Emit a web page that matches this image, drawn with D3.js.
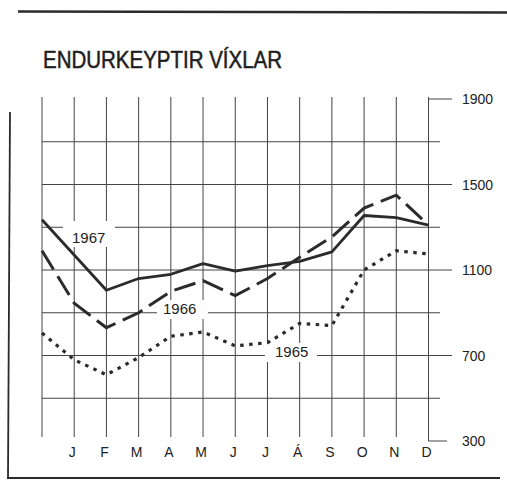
<!DOCTYPE html>
<html><head><meta charset="utf-8">
<script src="https://cdn.jsdelivr.net/npm/d3@7"></script>
<style>body{margin:0;background:#fff}svg{display:block}</style>
</head><body>
<script>
const title = "ENDURKEYPTIR VÍXLAR";
const months = ["", "J","F","M","A","M","J","J","Á","S","O","N","D"];
const yTicks = [1900, 1500, 1100, 700, 300];
const gridValues = [1700, 1500, 1300, 1100, 900, 700, 500];
const majorGrid = [1500, 1100, 700];
const s1967 = [1335, 1170, 1005, 1060, 1080, 1130, 1095, 1120, 1140, 1185, 1355, 1345, 1310];
const s1966 = [1190, 945, 830, 900, 1000, 1050, 980, 1060, 1160, 1255, 1390, 1450, 1310];
const s1965 = [805, 680, 610, 690, 790, 810, 745, 760, 850, 840, 1100, 1190, 1175];
const seriesNames = ["1967", "1966", "1965"];

const W = 507, H = 481;
const svg = d3.select("body").append("svg").attr("width", W).attr("height", H);
const ink = "#2b2b2b";

const x = d3.scalePoint().domain(d3.range(months.length)).range([42, 428.5]);
const y = d3.scaleLinear().domain([300, 1900]).range([441, 99]);

// frame
svg.append("line").attr("x1",18).attr("x2",507).attr("y1",11.5).attr("y2",12.5).attr("stroke",ink).attr("stroke-width",2.5);
svg.append("line").attr("x1",10).attr("x2",8).attr("y1",112).attr("y2",478).attr("stroke",ink).attr("stroke-width",1.8);
svg.append("line").attr("x1",7).attr("x2",500).attr("y1",478).attr("y2",478).attr("stroke",ink).attr("stroke-width",2.2);

// title
svg.append("text").attr("x",43).attr("y",68).text(title)
  .attr("font-family","Liberation Sans, Arial, sans-serif").attr("font-size",23)
  .attr("textLength",239).attr("lengthAdjust","spacingAndGlyphs")
  .attr("fill","#1e1e1e").attr("stroke","#1e1e1e").attr("stroke-width",0.5);

// grid
const g = svg.append("g").attr("stroke","#444").attr("stroke-width",1);
g.selectAll(".h").data(gridValues).join("line")
  .attr("x1",42).attr("x2",d => majorGrid.includes(d) ? 452 : 440)
  .attr("y1",d => y(d)).attr("y2",d => y(d));
g.selectAll(".v").data(d3.range(months.length)).join("line")
  .attr("x1",d => x(d)).attr("x2",d => x(d))
  .attr("y1",y(1900)-2).attr("y2",d => d === months.length-1 ? y(300) : y(300)-4);
// brackets on right axis
g.append("line").attr("x1",x(12)).attr("x2",452).attr("y1",y(1900)).attr("y2",y(1900));
g.append("line").attr("x1",x(12)).attr("x2",447).attr("y1",y(300)).attr("y2",y(300));

// right axis labels
svg.selectAll(".yl").data(yTicks).join("text")
  .attr("x",462).attr("y",d => y(d)).attr("dy","0.36em").text(d => d)
  .attr("font-family","Liberation Sans, Arial, sans-serif").attr("font-size",14).attr("fill","#222");

// month labels
svg.selectAll(".ml").data(months).join("text")
  .attr("x",(d,i) => x(i)-2).attr("y",457).attr("text-anchor","middle").text(d => d)
  .attr("font-family","Liberation Sans, Arial, sans-serif").attr("font-size",14).attr("fill","#222");

// label patches
const labels = [
  {name: seriesNames[0], x: 72, y: 243, box: [63, 221, 52, 26]},
  {name: seriesNames[1], x: 163, y: 314, box: [157, 300, 51, 19]},
  {name: seriesNames[2], x: 275, y: 357, box: [265, 343, 52, 19]}
];
svg.selectAll(".lb").data(labels).join("rect")
  .attr("x",d => d.box[0]).attr("y",d => d.box[1]).attr("width",d => d.box[2]).attr("height",d => d.box[3]).attr("fill","#fff");

// lines
const line = d3.line().x((d,i) => x(i)).y(d => y(d));
svg.append("path").datum(s1967).attr("d",line).attr("fill","none").attr("stroke",ink).attr("stroke-width",2.8).attr("stroke-linejoin","round");
svg.append("path").datum(s1966).attr("d",line).attr("fill","none").attr("stroke",ink).attr("stroke-width",3).attr("stroke-dasharray","22,8");
svg.append("path").datum(s1965).attr("d",line).attr("fill","none").attr("stroke",ink).attr("stroke-width",3.2).attr("stroke-dasharray","3.5,5.5");

svg.selectAll(".lt").data(labels).join("text")
  .attr("x",d => d.x).attr("y",d => d.y).text(d => d.name)
  .attr("font-family","Liberation Sans, Arial, sans-serif").attr("font-size",15).attr("fill","#222");
</script>
</body></html>
